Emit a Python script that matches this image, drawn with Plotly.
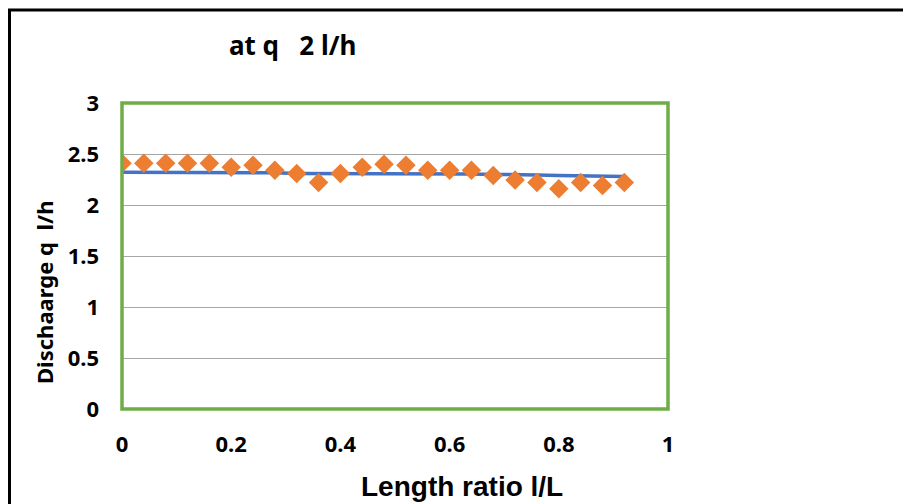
import plotly.graph_objects as go

x_ratio = [0, 0.04, 0.08, 0.12, 0.16, 0.20, 0.24, 0.28, 0.32, 0.36, 0.40, 0.44,
           0.48, 0.52, 0.56, 0.60, 0.64, 0.68, 0.72, 0.76, 0.80, 0.84, 0.88, 0.92]
q_measured = [2.41, 2.41, 2.41, 2.41, 2.41, 2.37, 2.39, 2.34, 2.31, 2.22, 2.31, 2.37,
              2.40, 2.39, 2.34, 2.34, 2.34, 2.29, 2.245, 2.22, 2.16, 2.22, 2.19, 2.22]
q_line = [2.32, 2.32, 2.32, 2.32, 2.32, 2.32, 2.32, 2.315, 2.31, 2.31, 2.31, 2.31,
          2.31, 2.31, 2.31, 2.31, 2.305, 2.30, 2.30, 2.295, 2.29, 2.285, 2.28, 2.28]
y_ticks = [0, 0.5, 1, 1.5, 2, 2.5, 3]
y_labels = ["0", "0.5", "1", "1.5", "2", "2.5", "3"]
x_ticks = [0, 0.2, 0.4, 0.6, 0.8, 1]
x_labels = ["0", "0.2", "0.4", "0.6", "0.8", "1"]

FONT = "Noto Sans, Open Sans, sans-serif"
FONT2 = "Liberation Sans, Arial, sans-serif"

fig = go.Figure()
fig.add_trace(go.Scatter(x=x_ratio, y=q_line, mode="lines",
                         line=dict(color="#4472C4", width=3.5), showlegend=False))
fig.add_trace(go.Scatter(x=x_ratio, y=q_measured, mode="markers",
                         marker=dict(symbol="diamond", size=15, color="#ED7D31",
                                     line=dict(width=0)), showlegend=False))

OFF = 8  # page body margin
W, H = 911 - OFF, 504 - OFF
L, T = 122 - OFF, 103 - OFF
pw, ph = 546, 306
R, B = W - L - pw, H - T - ph

def px(xp):
    return (xp - OFF - L) / pw

def py(yp):
    return 1 - (yp - OFF - T) / ph

fig.update_layout(
    width=W, height=H,
    margin=dict(l=L, r=R, t=T, b=B),
    paper_bgcolor="white", plot_bgcolor="white",
    font=dict(family=FONT, size=20, color="black"),
    xaxis=dict(range=[0, 1], tickvals=x_ticks, ticktext=x_labels, showgrid=False,
               zeroline=False, showline=False, ticks="", ticklabelstandoff=20,
               tickfont=dict(family=FONT, size=22, color="black", weight="bold")),
    yaxis=dict(range=[0, 3], tickvals=y_ticks, ticktext=y_labels, showgrid=True,
               gridcolor="#A6A6A6", gridwidth=1.2, zeroline=False, showline=False,
               ticks="", ticklabelstandoff=22,
               tickfont=dict(family=FONT, size=22, color="black", weight="bold")),
    shapes=[
        dict(type="rect", xref="paper", yref="paper", x0=0, x1=1, y0=0, y1=1,
             line=dict(color="#70AD47", width=3.5), layer="above"),
        dict(type="line", xref="paper", yref="paper", x0=px(9.5), x1=px(9.5),
             y0=py(10), y1=py(520), line=dict(color="black", width=3)),
        dict(type="line", xref="paper", yref="paper", x0=px(8), x1=px(930),
             y0=py(10), y1=py(10), line=dict(color="black", width=3)),
    ],
    annotations=[
        dict(text="<b>at q   2 l/h</b>", xref="paper", yref="paper",
             x=px(292), y=py(45), xanchor="center", yanchor="middle",
             showarrow=False, font=dict(family=FONT, size=26, color="black")),
        dict(text="<b>Length ratio l/L</b>", xref="paper", yref="paper",
             x=px(462), y=py(486), xanchor="center", yanchor="middle",
             showarrow=False, font=dict(family=FONT2, size=28, color="black")),
        dict(text="<b>Dischaarge q  l/h</b>", xref="paper", yref="paper",
             x=px(44), y=py(293), xanchor="center", yanchor="middle", textangle=-90,
             showarrow=False, font=dict(family=FONT, size=22, color="black")),
    ],
)

fig.write_html("out.html")
